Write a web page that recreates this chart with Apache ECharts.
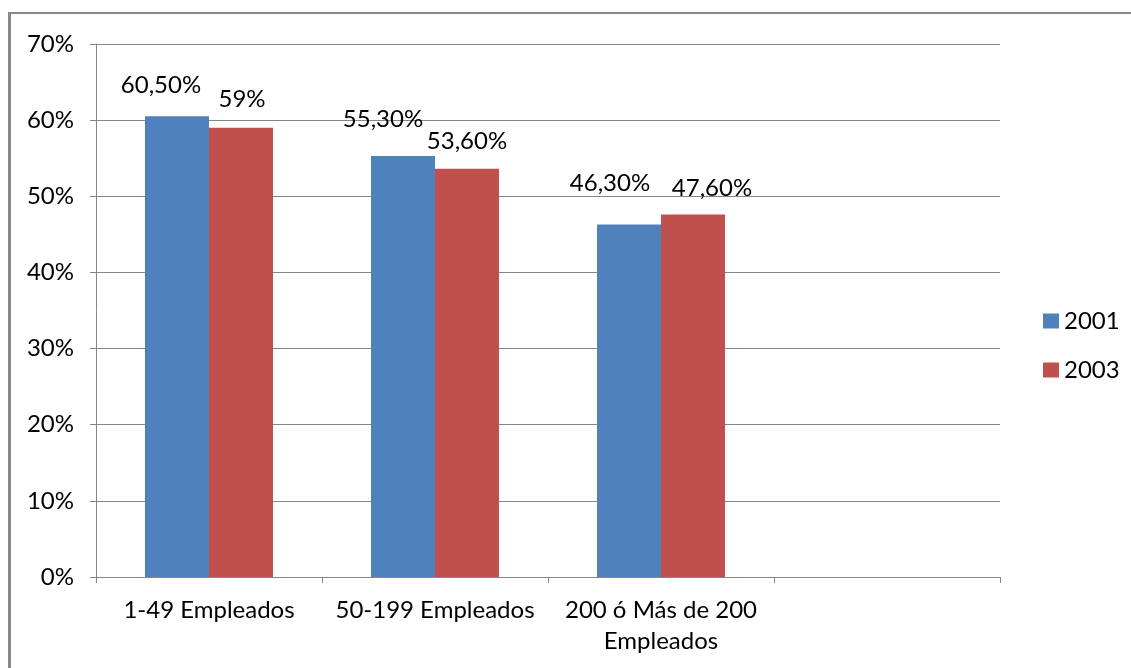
<!DOCTYPE html>
<html>
<head>
<meta charset="utf-8">
<script src="https://cdn.jsdelivr.net/npm/echarts@6/dist/echarts.min.js"></script>
<style>
    html, body { margin: 0; padding: 0; background: #fff; }
    #frame {
        position: absolute; left: 8px; top: 12px; width: 1123px; height: 656px;
        border-left: 3px solid #888; border-top: 2px solid #888; box-sizing: border-box;
    }
    #chart { position: absolute; left: 0; top: 0; width: 1131px; height: 668px; }
</style>
</head>
<body>
<div id="frame"></div>
<div id="chart"></div>
<script>
const categories = ['1-49 Empleados', '50-199 Empleados', '200 ó Más de 200\nEmpleados', ''];
const values2001 = [60.5, 55.3, 46.3, null];
const values2003 = [59, 53.6, 47.6, null];
const labels2001 = ['60,50%', '55,30%', '46,30%', ''];
const labels2003 = ['59%', '53,60%', '47,60%', ''];
const yTicks = [0, 10, 20, 30, 40, 50, 60, 70];

// label placement as Excel left it (x shift, distance above bar)
const labelPos2001 = [[-16, 19], [-20, 25], [-19, 29], [0, 0]];
const labelPos2003 = [[1, 16], [0, 16], [19, 14], [0, 0]];

const font = 'Lato, "Open Sans", sans-serif';
const fs = 24;
const gray = '#868686';

function withLabels(values, texts, pos) {
    return values.map((v, i) => ({
        value: v,
        label: { formatter: texts[i], offset: [pos[i][0], 0], distance: pos[i][1] }
    }));
}

const chart = echarts.init(document.getElementById('chart'));
chart.setOption({
    animation: false,
    textStyle: { fontFamily: font },
    grid: { left: 96, right: 131, top: 44, bottom: 91 },
    legend: {
        orient: 'vertical',
        left: 1038,
        top: 304,
        itemWidth: 16,
        itemHeight: 15,
        itemGap: 25,
        icon: 'rect',
        textStyle: { fontSize: fs, color: '#000', fontFamily: font },
        data: ['2001', '2003']
    },
    xAxis: {
        type: 'category',
        data: categories,
        axisLine: { lineStyle: { color: gray, width: 1 } },
        axisTick: { show: true, length: 6, lineStyle: { color: gray } },
        axisLabel: { color: '#000', fontSize: fs, margin: 18, lineHeight: 31, interval: 0, fontFamily: font }
    },
    yAxis: {
        type: 'value',
        min: yTicks[0],
        max: yTicks[yTicks.length - 1],
        interval: 10,
        axisLine: { show: true, lineStyle: { color: gray } },
        axisTick: { show: true, length: 6, lineStyle: { color: gray } },
        axisLabel: { color: '#000', fontSize: fs, margin: 22, formatter: '{value}%', fontFamily: font },
        splitLine: { lineStyle: { color: gray, width: 1 } }
    },
    series: [
        {
            name: '2001',
            type: 'bar',
            data: withLabels(values2001, labels2001, labelPos2001),
            barWidth: 64,
            barGap: '0%',
            itemStyle: { color: '#4F81BD' },
            label: { show: true, position: 'top', fontSize: fs, color: '#000', fontFamily: font }
        },
        {
            name: '2003',
            type: 'bar',
            data: withLabels(values2003, labels2003, labelPos2003),
            barWidth: 64,
            itemStyle: { color: '#C0504D' },
            label: { show: true, position: 'top', fontSize: fs, color: '#000', fontFamily: font }
        }
    ]
});
</script>
</body>
</html>
